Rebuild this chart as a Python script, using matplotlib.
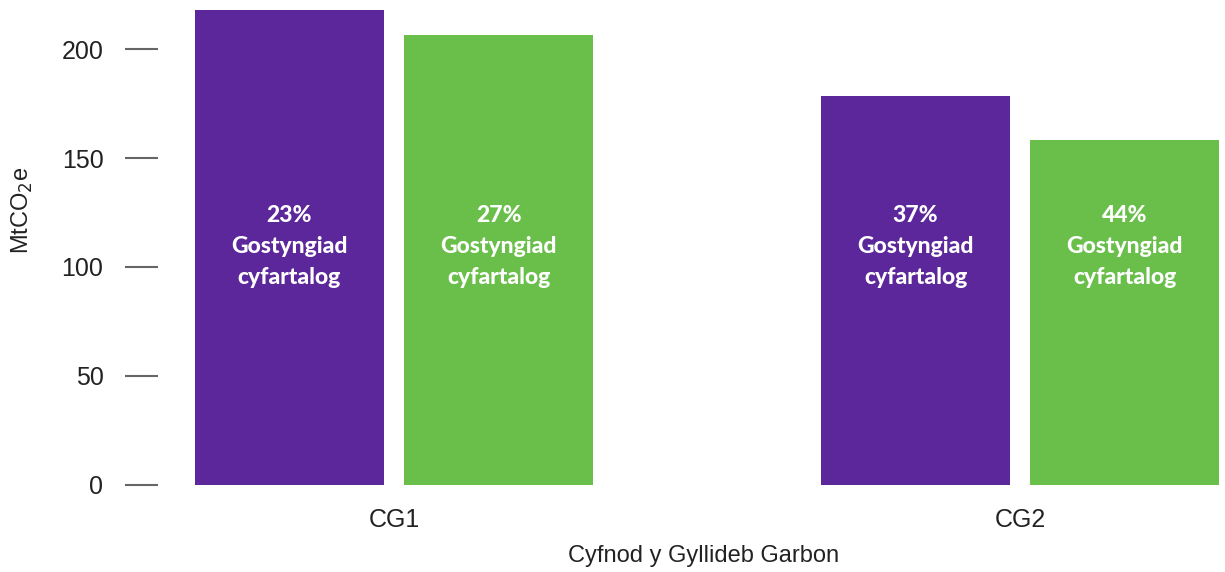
import matplotlib
matplotlib.use("Agg")
import matplotlib.pyplot as plt
import numpy as np

categories = ["CG1", "CG2"]
series_names = ["Purple", "Green"]
values_purple = [218.0, 178.5]
values_green = [206.5, 158.2]
labels_purple = ["23%\nGostyngiad\ncyfartalog", "37%\nGostyngiad\ncyfartalog"]
labels_green = ["27%\nGostyngiad\ncyfartalog", "44%\nGostyngiad\ncyfartalog"]
yticks = [0, 50, 100, 150, 200]

PURPLE = "#5C279A"
GREEN = "#6ABF4B"

W, H = 1225, 572
fig = plt.figure(figsize=(W / 100, H / 100), dpi=100)
plt.rcParams['font.family'] = ['Liberation Sans', 'DejaVu Sans']

ax_left, ax_bottom_px = 158, 484.5
ax = fig.add_axes([ax_left / W, (H - ax_bottom_px) / H, (W - ax_left) / W, ax_bottom_px / H])

x = np.arange(len(categories))
bw = 0.302
off = 0.167
ax.bar(x - off, values_purple, width=bw, color=PURPLE)
ax.bar(x + off, values_green, width=bw, color=GREEN)

label_font = dict(family=['Lato', 'DejaVu Sans'], weight='black', fontsize=16.5, color='white',
                  ha='center', va='center', linespacing=1.58)
for i in range(len(categories)):
    ax.text(x[i] - off, 109.5, labels_purple[i], **label_font)
    ax.text(x[i] + off, 109.5, labels_green[i], **label_font)

ax.set_xlim(-0.377, 1.327)
ax.set_ylim(0, 222.6)
ax.set_yticks(yticks)
ax.set_xticks(x)
ax.set_xticklabels(categories)
for s in ax.spines.values():
    s.set_visible(False)
ax.tick_params(axis='y', length=23.8, width=1.5, color='#666666', pad=15.5,
               labelsize=18, labelcolor='#222222')
ax.tick_params(axis='x', length=0, pad=17, labelsize=18, labelcolor='#222222')

fig.text(704 / W, 1 - 556 / H, "Cyfnod y Gyllideb Garbon", fontsize=17, color='#222222',
         ha='center', va='center')
fig.text(22 / W, 1 - 210 / H, "MtCO$_2$e", fontsize=17, color='#222222', rotation=90,
         ha='center', va='center')

fig.savefig("out.png", dpi=100)
